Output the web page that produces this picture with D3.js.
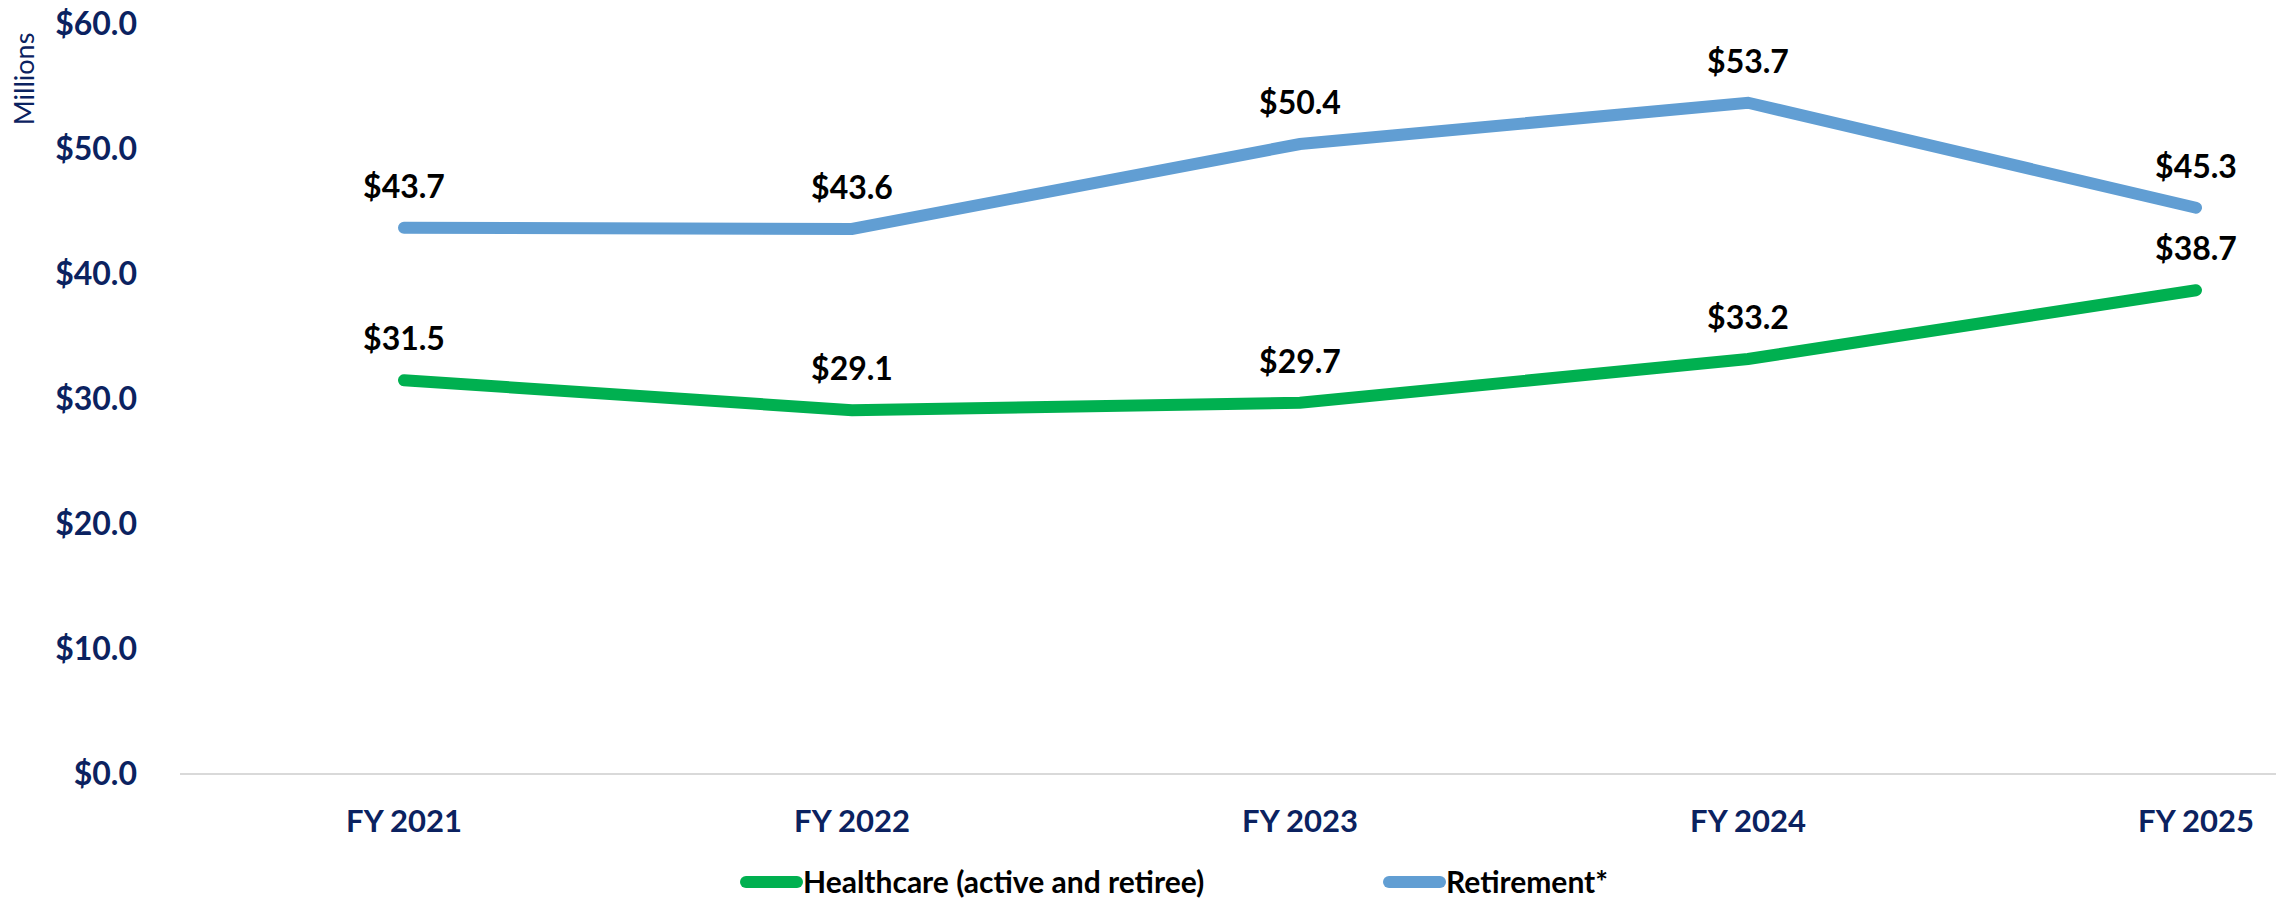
<!DOCTYPE html>
<html>
<head>
<meta charset="utf-8">
<script src="https://cdn.jsdelivr.net/npm/d3@7"></script>
<style>
  body { margin: 0; background: #fff; }
  svg { display: block; }
</style>
</head>
<body>
<script>
var years = ['FY 2021', 'FY 2022', 'FY 2023', 'FY 2024', 'FY 2025'];
var healthcare = [31.5, 29.1, 29.7, 33.2, 38.7];
var retirement = [43.7, 43.6, 50.4, 53.7, 45.3];
var yTicks = [0, 10, 20, 30, 40, 50, 60];
var seriesNames = ['Healthcare (active and retiree)', 'Retirement*'];
var seriesColors = ['#00b050', '#619ed3'];

var W = 2276, H = 902;
var navy = '#0b2260';
var font = 'Lato, Calibri, "Open Sans", sans-serif';

var svg = d3.select('body').append('svg')
    .attr('width', W)
    .attr('height', H);

var xScale = d3.scaleBand().domain(years).range([180, 2420]).padding(0),
    yScale = d3.scaleLinear().domain([0, 60]).range([774, 24]);

var xMid = function(i) { return xScale(years[i]) + xScale.bandwidth() / 2; };

// y axis labels, no line
var yAxis = d3.axisLeft(yScale)
    .tickValues(yTicks)
    .tickSize(0)
    .tickPadding(0)
    .tickFormat(function(d) { return '$' + d3.format('.1f')(d); });

svg.append('g')
    .attr('class', 'y axis')
    .attr('transform', 'translate(137,0)')
    .call(yAxis)
    .call(function(g) { g.select('.domain').remove(); })
    .selectAll('text')
      .style('font-family', font)
      .style('font-weight', 'bold')
      .style('font-size', '32px')
      .attr('fill', navy);

svg.append('text')
    .attr('transform', 'translate(34,79) rotate(-90)')
    .style('text-anchor', 'middle')
    .style('font-family', font)
    .style('font-size', '27px')
    .attr('fill', navy)
    .text('Millions');

// x axis
var xAxis = d3.axisBottom(xScale).tickSize(0).tickPadding(36);
var gx = svg.append('g')
    .attr('class', 'x axis')
    .attr('transform', 'translate(0,774)')
    .call(xAxis);
gx.select('.domain').remove();
gx.selectAll('text')
    .style('font-family', font)
    .style('font-weight', 'bold')
    .style('font-size', '31px')
    .attr('fill', navy);
gx.append('line')
    .attr('x1', xScale.range()[0])
    .attr('x2', W)
    .attr('stroke', '#d9d9d9')
    .attr('stroke-width', 2);

// lines
var line = d3.line()
    .x(function(d, i) { return xMid(i); })
    .y(function(d) { return yScale(d); });

var allSeries = [healthcare, retirement];

allSeries.forEach(function(vals, s) {
  svg.append('path')
      .datum(vals)
      .attr('d', line)
      .attr('fill', 'none')
      .attr('stroke', seriesColors[s])
      .attr('stroke-width', 12)
      .attr('stroke-linecap', 'round')
      .attr('stroke-linejoin', 'miter');

  svg.selectAll('.lbl' + s)
      .data(vals)
    .enter().append('text')
      .attr('class', 'lbl' + s)
      .attr('x', function(d, i) { return xMid(i); })
      .attr('y', function(d) { return yScale(d) - 30; })
      .style('text-anchor', 'middle')
      .style('font-family', font)
      .style('font-weight', 'bold')
      .style('font-size', '32px')
      .attr('fill', '#000')
      .text(function(d) { return '$' + d3.format('.1f')(d); });
});

// legend
var legendX = [740, 1383];
var legend = svg.selectAll('.legend')
    .data(seriesNames)
  .enter().append('g')
    .attr('class', 'legend')
    .attr('transform', function(d, i) { return 'translate(' + legendX[i] + ',882)'; });

legend.append('line')
    .attr('x1', 6)
    .attr('x2', 57)
    .attr('stroke', function(d, i) { return seriesColors[i]; })
    .attr('stroke-width', 12)
    .attr('stroke-linecap', 'round');

legend.append('text')
    .attr('x', 63)
    .attr('dy', '0.35em')
    .style('font-family', font)
    .style('font-weight', 'bold')
    .style('font-size', '30px')
    .attr('fill', '#000')
    .text(function(d) { return d; });
</script>
</body>
</html>
